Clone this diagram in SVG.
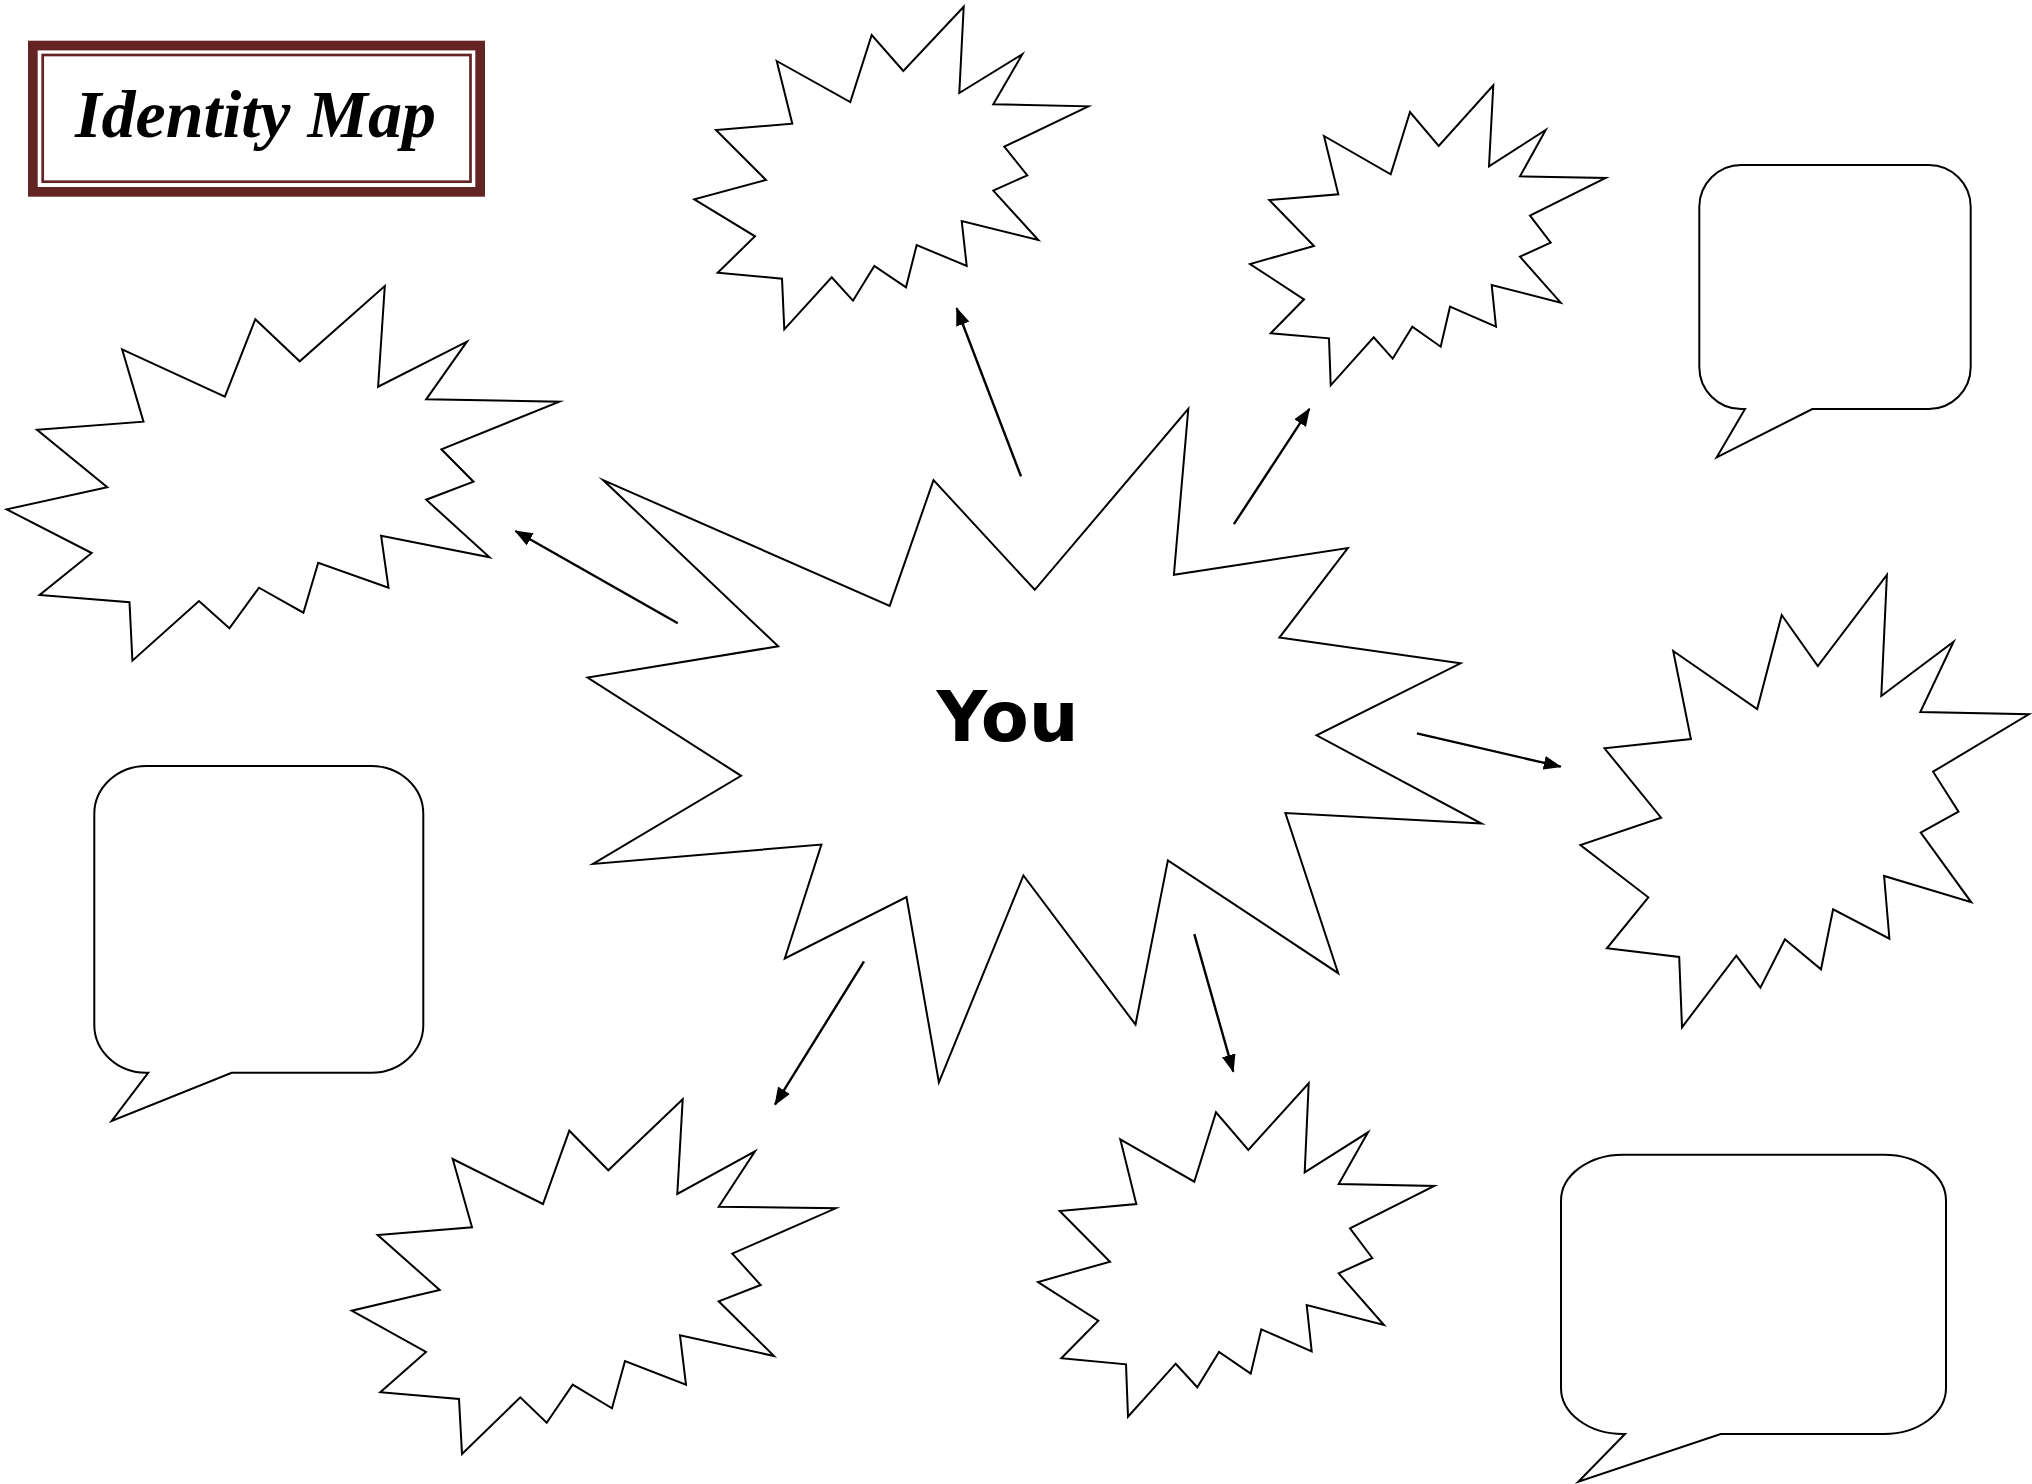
<svg xmlns="http://www.w3.org/2000/svg" width="2032" height="1484" viewBox="0 0 2032 1484">
<defs>
<style>
.shape{fill:#fff;stroke:#000;stroke-width:2;stroke-linejoin:miter;stroke-miterlimit:20}
.conn{stroke:#000;stroke-width:2.4;fill:none}
.title{font-family:"Liberation Serif","Times New Roman",serif;font-weight:bold;font-style:italic;font-size:68px;fill:#000}
.you{font-family:"DejaVu Sans","Liberation Sans",sans-serif;font-weight:bold;font-size:70px;fill:#000}
</style>
<marker id="ah" markerUnits="userSpaceOnUse" viewBox="0 0 18 14" markerWidth="18" markerHeight="14" refX="17" refY="7" orient="auto">
<path d="M0,0 L18,7 L0,14 z" fill="#000"/>
</marker>
</defs>
<rect width="2032" height="1484" fill="#fff"/>

<g id="title">
<rect x="28" y="40.7" width="457" height="156" fill="#642424"/>
<rect x="37.7" y="50.4" width="437.6" height="136.6" fill="#fff"/>
<rect x="42.7" y="55" width="427.8" height="126.7" fill="none" stroke="#642424" stroke-width="2.7"/>
<text class="title" x="255.5" y="136.7" text-anchor="middle">Identity Map</text>
</g>

<g id="connectors">
<line class="conn" x1="677.8" y1="623.3" x2="515.4" y2="531" marker-end="url(#ah)"/>
<line class="conn" x1="1021" y1="476.4" x2="956.7" y2="308.3" marker-end="url(#ah)"/>
<line class="conn" x1="1233.9" y1="524.2" x2="1309.4" y2="408.9" marker-end="url(#ah)"/>
<line class="conn" x1="1416.9" y1="733.3" x2="1560.7" y2="766.7" marker-end="url(#ah)"/>
<line class="conn" x1="864" y1="961.3" x2="775" y2="1104.7" marker-end="url(#ah)"/>
<line class="conn" x1="1194.3" y1="934.2" x2="1233.3" y2="1071.7" marker-end="url(#ah)"/>
</g>

<g id="you">
<polygon class="shape" points="603.2,480.1 889.7,605.9 933.5,480.1 1034.8,589.8 1188.3,408.9 1173.9,574.7 1347.8,548 1279.4,637.6 1460.5,663.3 1316.6,735.4 1481.5,823.5 1285.4,813 1338.2,973.2 1167.9,860.3 1135.5,1024.6 1023.4,875.4 938.9,1082.5 906.5,897 784.8,958.5 821.4,844.6 593,863.9 741.1,775.8 587.6,677.5 778.2,646.3"/>
<text class="you" x="1007.5" y="741" text-anchor="middle">You</text>
</g>

<g id="star-left">
<polygon class="shape" points="122.1,349.3 224.9,396.7 255.3,319.3 299.7,361.3 384.8,286 378.1,386.7 466.9,341.7 426.2,399.3 559.4,401.7 441.4,449.3 473.5,481.7 426.2,499.7 489.5,557.3 381.1,535.7 388.5,587.7 318.2,562.7 303.4,612.7 259,587.7 229.4,628.3 199,601 132.4,660.7 129.5,602.3 39.6,595 91.7,553 6.7,509.3 107.3,487.3 37,429.7 143.5,421.7"/>
</g>

<g id="star-top">
<polygon class="shape" points="776.7,61 850.3,102 871.7,35 903.3,71 963.7,6.7 959.3,93 1022.3,54.3 993.3,104.3 1088.3,106.3 1004.3,146.7 1027.3,175.3 993.3,190.7 1038.3,240 961.7,221 966.7,266 916.7,245 906,287.3 874.3,266 853,300.7 831.7,277.3 784.3,329.3 782,278.7 717.7,272.7 755,236.3 694.3,199.3 766,180 716,130 792.3,123.7"/>
</g>

<g id="star-top-right">
<polygon class="shape" points="1324,136 1390.7,174.3 1410,112 1438.7,146 1493.3,85.3 1489,166.3 1545.7,130 1520,176.3 1605.7,178 1530,215.7 1550.7,242.7 1520,256.7 1560.7,302.7 1491.7,285 1496,326.7 1450,306.7 1440.7,346.7 1412.3,326.7 1392.7,358.7 1373.7,337.3 1330.7,385.3 1329,338.3 1270.7,333.3 1304,299.3 1250,264 1314,246 1269.3,200 1338.3,194.3"/>
</g>

<g id="star-right">
<polygon class="shape" points="1673.2,651 1757.2,709 1781.7,615 1817.8,666 1886.9,575 1881.3,696 1953.6,641.7 1920.3,712 2028.8,714.3 1933.1,771.7 1958.5,811.7 1920.7,832.7 1971.3,902.3 1884.1,876 1889.4,938.7 1833.1,909.3 1821,969.3 1784.9,939.3 1760.4,987.7 1736.3,955.7 1682,1027.3 1679.2,957 1606.9,948.3 1648.3,897.3 1580.4,845 1661.1,817.7 1604.5,748.3 1690.9,739"/>
</g>

<g id="star-bottom-left">
<polygon class="shape" points="452.7,1159 543,1204 569.3,1130.7 608.3,1170.3 682.7,1099.3 677.3,1194 755,1151.3 718.7,1206.7 835.7,1208.3 732.3,1253.7 760.7,1285 718.7,1301.3 774,1356 680,1335.3 686,1384.7 625,1361 612,1408.3 572.7,1384.7 546.7,1422.7 520.3,1397.3 462,1454 459,1399 380.3,1392.3 426,1352 351.7,1310.7 439.7,1290 377.7,1235 472,1227.3"/>
</g>

<g id="star-bottom-middle">
<polygon class="shape" points="1120.3,1139.3 1194.3,1181.7 1216,1112.3 1248.3,1150 1308.7,1083.3 1304.7,1172.3 1368,1132.3 1338.7,1184 1434.3,1186 1350,1228.3 1372.3,1258 1338.7,1273.3 1384,1325 1306.7,1305 1311.7,1351.3 1261.3,1329.3 1250.7,1373.7 1219,1352 1197.3,1387.3 1175.7,1363.7 1128,1416.7 1126,1364.3 1061.3,1358.3 1098.3,1320.7 1038,1282 1110,1261.7 1059.7,1211 1136.3,1204"/>
</g>

<g id="bubble-top-right">
<path class="shape" d="M1745,409 L1716.7,457.3 L1812.3,409 L1928.7,409 A42,42 0 0 0 1970.7,367 L1970.7,207 A42,42 0 0 0 1928.7,165 L1741.3,165 A42,42 0 0 0 1699.3,207 L1699.3,367 A42,42 0 0 0 1741.3,409 Z"/>
</g>

<g id="bubble-left">
<path class="shape" d="M148.3,1072.7 L111.7,1121 L231.7,1072.7 L371.3,1072.7 A52,48 0 0 0 423.3,1024.7 L423.3,814 A52,48 0 0 0 371.3,766 L146.3,766 A52,48 0 0 0 94.3,814 L94.3,1024.7 A52,48 0 0 0 146.3,1072.7 Z"/>
</g>

<g id="bubble-bottom-right">
<path class="shape" d="M1625,1434 L1578.3,1481.7 L1720.7,1434 L1884,1434 A62,46 0 0 0 1946,1388 L1946,1200.7 A62,46 0 0 0 1884,1154.7 L1623,1154.7 A62,46 0 0 0 1561,1200.7 L1561,1388 A62,46 0 0 0 1623,1434 Z"/>
</g>
</svg>
